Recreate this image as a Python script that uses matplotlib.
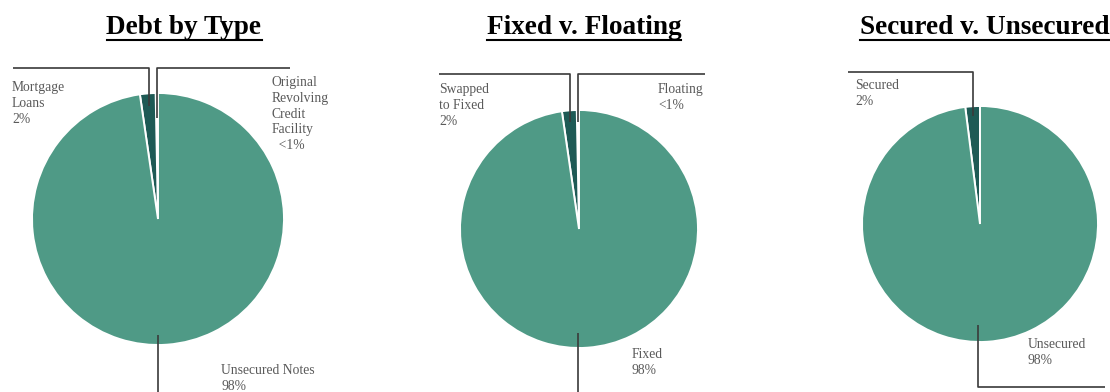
import numpy as np
import matplotlib
matplotlib.use("Agg")
import matplotlib.pyplot as plt

# chart data
titles = ["Debt by Type", "Fixed v. Floating", "Secured v. Unsecured"]

debt_labels = ["Original\nRevolving\nCredit\nFacility\n  <1%", "Mortgage\nLoans\n2%", "Unsecured Notes\n98%"]
debt_values = [0.3, 2.0, 97.7]

rate_labels = ["Floating\n<1%", "Swapped\nto Fixed\n2%", "Fixed\n98%"]
rate_values = [0.3, 2.0, 97.7]

sec_labels = ["Secured\n2%", "Unsecured\n98%"]
sec_values = [2.0, 98.0]

BIG = "#4f9a86"
DARK = "#1e5a55"
PEACH = "#edd3c0"
LINE = "#3a3a3a"
TXT = "#5a5a5a"

W, H = 1110, 392
fig = plt.figure(figsize=(W / 100, H / 100), dpi=100)
ax = fig.add_axes([0, 0, 1, 1])
ax.set_xlim(0, W)
ax.set_ylim(0, H)
ax.set_aspect("equal")
ax.axis("off")

serif = "Liberation Serif"


def py(y):
    # pixel row (from top) -> data y
    return H - y


def draw_pie(values, colors, cx, cy, r):
    ax.pie(values, colors=colors, startangle=90, counterclock=True,
           center=(cx, py(cy)), radius=r, frame=True,
           wedgeprops=dict(edgecolor="white", linewidth=1.4))
    # mid angles of each wedge, degrees
    fr = np.array(values) / np.sum(values) * 360
    starts = 90 + np.concatenate([[0], np.cumsum(fr)[:-1]])
    return starts + fr / 2


def anchor(cx, cy, r, ang, k):
    a = np.deg2rad(ang)
    return cx + k * r * np.cos(a), py(cy) + k * r * np.sin(a)


def leader(pts):
    xs = [p[0] for p in pts]
    ys = [p[1] for p in pts]
    ax.plot(xs, ys, color=LINE, lw=1.2, solid_capstyle="butt", zorder=5)


def label(x, y, s, ha="left"):
    ax.text(x, py(y), s, ha=ha, va="top", fontsize=9.8, color=TXT,
            family=serif, linespacing=1.28)


# --- Debt by Type ---
cx, cy, r = 158, 219, 126
mids = draw_pie(debt_values, [PEACH, DARK, BIG], cx, cy, r)
x0, y0 = anchor(cx, cy, r, mids[1], 0.9)
leader([(13, py(68)), (x0, py(68)), (x0, y0)])
x1, y1 = anchor(cx, cy, r, mids[0], 0.8)
leader([(x1, y1), (x1, py(68)), (290, py(68))])
leader([(cx, py(335)), (cx, 0)])
label(12, 81, debt_labels[1])
label(272, 76, debt_labels[0])
label(221, 364, debt_labels[2])

# --- Fixed v. Floating ---
cx, cy, r = 579, 229, 119
mids = draw_pie(rate_values, [PEACH, DARK, BIG], cx, cy, r)
x0, y0 = anchor(cx, cy, r, mids[1], 0.9)
leader([(439, py(74)), (x0, py(74)), (x0, y0)])
x1, y1 = anchor(cx, cy, r, mids[0], 0.9)
leader([(x1, y1), (x1, py(74)), (705, py(74))])
leader([(cx - 1, py(333)), (cx - 1, 0)])
label(439, 83, rate_labels[1])
label(658, 83, rate_labels[0])
label(632, 348, rate_labels[2])

# --- Secured v. Unsecured ---
cx, cy, r = 980, 224, 118
mids = draw_pie(sec_values, [DARK, BIG], cx, cy, r)
x0, y0 = anchor(cx, cy, r, mids[0], 0.92)
leader([(848, py(72)), (x0, py(72)), (x0, y0)])
leader([(cx - 2, py(325)), (cx - 2, py(387)), (1105, py(387))])
label(855, 79, sec_labels[0])
label(1028, 338, sec_labels[1])

ax.set_xlim(0, W)
ax.set_ylim(0, H)

# titles with underline
title_x = [184, 584, 985]
fig.canvas.draw()
rend = fig.canvas.get_renderer()
for t, tx in zip(titles, title_x):
    txt = ax.text(tx, py(34), t, ha="center", va="baseline", fontsize=19.6,
                  fontweight="bold", family=serif, color="black")
    bb = txt.get_window_extent(renderer=rend)
    ax.plot([bb.x0, bb.x1], [py(40), py(40)], color="black", lw=1.5)

fig.savefig("out.png", dpi=100)
